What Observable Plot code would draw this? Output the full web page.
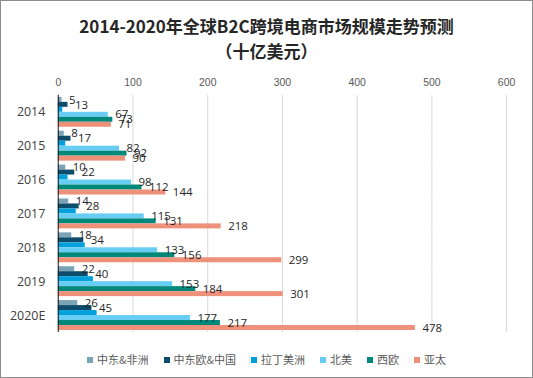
<!DOCTYPE html>
<html><head><meta charset="utf-8">
<script src="https://cdn.jsdelivr.net/npm/d3@7"></script>
<script src="https://cdn.jsdelivr.net/npm/@observablehq/plot@0.6"></script>
<style>
body{margin:0;background:#fff;font-family:"Noto Sans CJK SC","Noto Sans",sans-serif;}
#wrap{position:relative;width:533px;height:378px;box-sizing:border-box;border:1px solid #8c8c8c;background:#fff;overflow:hidden;}
#title{position:absolute;left:0;top:12px;width:531px;text-align:center;font-weight:bold;font-size:17px;line-height:25px;color:#262626;}
#chart{position:absolute;left:0;top:60px;}
#legend{position:absolute;left:0;top:349px;width:531px;display:flex;justify-content:center;gap:15px;font-size:11px;color:#595959;line-height:18px;}
#legend span.sw{display:inline-block;width:6px;height:6px;margin-right:4px;vertical-align:1px;}
</style></head>
<body><div id="wrap">
<div id="title">2014-2020年全球B2C跨境电商市场规模走势预测<br>（十亿美元）</div>
<div id="chart"></div>
<div id="legend"></div>
</div>
<script>
const years = ["2014","2015","2016","2017","2018","2019","2020E"];
const series = ["中东&非洲","中东欧&中国","拉丁美洲","北美","西欧","亚太"];
const colors = ["#7ba3b6","#0d4c6a","#00a0dc","#67cdf3","#00897b","#ee917a"];
const meAfrica = [5,8,10,14,18,22,26];
const ceeChina = [13,17,22,28,34,40,45];
const latAm = [6,10,13,24,36,47,52];
const northAm = [67,82,98,115,133,153,177];
const westEu = [73,92,112,131,156,184,217];
const asiaPac = [71,90,144,218,299,301,478];
const labeled = ["中东&非洲","中东欧&中国","北美","西欧","亚太"];
const xTicks = [0,100,200,300,400,500,600];

const valuesBySeries = [meAfrica, ceeChina, latAm, northAm, westEu, asiaPac];
const data = [];
years.forEach((y,i)=>series.forEach((s,j)=>data.push({year:y, series:s, value:valuesBySeries[j][i]})));

const chart = Plot.plot({
  width: 533, height: 274,
  marginLeft: 57, marginRight: 26, marginTop: 34, marginBottom: 2,
  style: {fontFamily: "'Liberation Sans','Noto Sans',sans-serif", fontSize: "10.5px", color: "#595959", background: "transparent"},
  x: {domain: [0,600], axis: "top", ticks: xTicks, tickSize: 0, tickPadding: 9, label: null},
  fy: {domain: years, padding: 0, axis: null, label: null},
  y: {domain: series, paddingInner: 0, paddingOuter: 0.4, axis: null},
  color: {domain: series, range: colors},
  marks: [
    Plot.ruleX(xTicks, {stroke: "#d9d9d9", strokeWidth: 1}),
    Plot.barX(data, {fy: "year", y: "series", x: "value", fill: "series", inset: 0}),
    Plot.text(data.filter(d => labeled.includes(d.series)), {fy: "year", y: "series", x: "value", text: "value", dx: 7, textAnchor: "start", fill: "#262626", fontSize: 11.5, fontFamily: "'Open Sans','Noto Sans',sans-serif"}),
    Plot.ruleX([0], {stroke: "#1a1a1a", strokeWidth: 1}),
    Plot.axisFy({anchor: "left", tickSize: 0, tickPadding: 13, fontSize: 12.5, fill: "#404040", label: null, fontFamily: "'Open Sans','Noto Sans',sans-serif"})
  ]
});
document.getElementById("chart").appendChild(chart);

const lg = document.getElementById("legend");
series.forEach((s,i)=>{
  const it = document.createElement("div");
  it.innerHTML = `<span class="sw" style="background:${colors[i]}"></span>${s}`;
  lg.appendChild(it);
});
</script>
</body></html>
